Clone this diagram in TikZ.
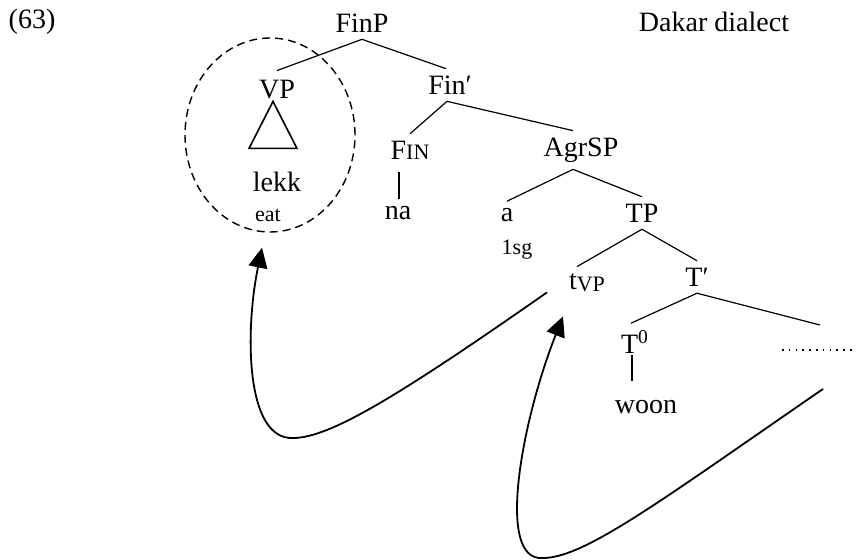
\documentclass[tikz,border=0pt]{standalone}
\usepackage{fontspec}
\setmainfont{Liberation Serif}
\usetikzlibrary{arrows.meta,shapes.geometric}
\tikzset{mv/.style = {line width=0.9pt, -{Triangle[length=10pt,width=9.5pt]}}}
\tikzset{br/.style = {line width=0.6pt}}
\newcommand{\sm}{\fontsize{11}{13}\selectfont}

\begin{document}
\begin{tikzpicture}[x=0.5pt, y=-0.5pt, font=\fontsize{14}{17}\selectfont]
\useasboundingbox (0,0) rectangle (856,560);
\node (ex) at (32,22) {(63)};
\node (dakar) at (714,22) {Dakar dialect};
\node (FinP) at (362,23) {FinP};
\node (VP) at (277,90) {VP};
\node (lekk) at (277,182) {lekk};
\node (eat) at (268,215) {\sm eat};
\node[draw, ellipse, dash pattern=on 4pt off 2.5pt, line width=0.7pt, minimum width=85pt, minimum height=97pt] (ring) at (270,135) {};
\node (Finbar) at (450,85) {Fin′};
\node (Fin) at (410,150) {F\sm IN};
\node (na) at (398,213) {na};
\node (AgrSP) at (581,150) {AgrSP};
\node (a) at (507,215) {a};
\node (sg) at (517,250) {\sm 1sg};
\node (TP) at (642,213) {TP};
\node (tVP) at (587,283) {t\raisebox{-0.2ex}{\sm VP}};
\node (Tbar) at (697,277) {T′};
\node (T0) at (635,342) {T\textsuperscript{0}};
\node (woon) at (646,407) {woon};
\coordinate (dots) at (820,350);
% branches
\draw[br] (FinP.south) -- ([yshift=1.5pt]VP.north);
\draw[br] (FinP.south) -- ([xshift=-2pt]Finbar.north);
\draw[br] ([xshift=-1.5pt]Finbar.south) -- (Fin.north);
\draw[br] ([xshift=-1.5pt]Finbar.south) -- ([xshift=-4pt]AgrSP.north);
\draw[br] ([xshift=-4pt]AgrSP.south) -- (a.north);
\draw[br] ([xshift=-4pt]AgrSP.south) -- (TP.north);
\draw[br] (TP.south) -- ([xshift=-5pt]tVP.north);
\draw[br] (TP.south) -- (Tbar.north);
\draw[br] (Tbar.south) -- ([xshift=-2pt]T0.north);
\draw[br] (Tbar.south) -- ([yshift=12.5pt]dots);
\draw[br] ([xshift=-5.5pt,yshift=-3pt]Fin.south) -- ([xshift=0.5pt]na.north);
\draw[br] ([xshift=-1.5pt,yshift=3pt]T0.south) -- ([xshift=-7pt,yshift=6pt]woon.north);
\draw[line width=0.8pt] ([xshift=-2pt,yshift=2.5pt]VP.south) -- ++(-24,47) -- ++(48,0) -- cycle;
\draw[line width=0.8pt, dash pattern=on 0.8pt off 2.6pt] ([xshift=-19pt]dots) -- ([xshift=18pt]dots);
% movement
\draw[mv] ([xshift=-7.5pt,yshift=3.5pt]tVP.south west) .. controls (400,395) and (330,438) .. (293,438) .. controls (245,440) and (245,330) .. ([xshift=-4pt,yshift=-7.5pt]ring.south);
\draw[mv] ([xshift=1.5pt,yshift=-19.5pt]dots) .. controls (663,499) and (585,558) .. (543,558) .. controls (495,562) and (522,420) .. ([xshift=-12pt,yshift=-8.5pt]tVP.south);
\end{tikzpicture}
\end{document}
